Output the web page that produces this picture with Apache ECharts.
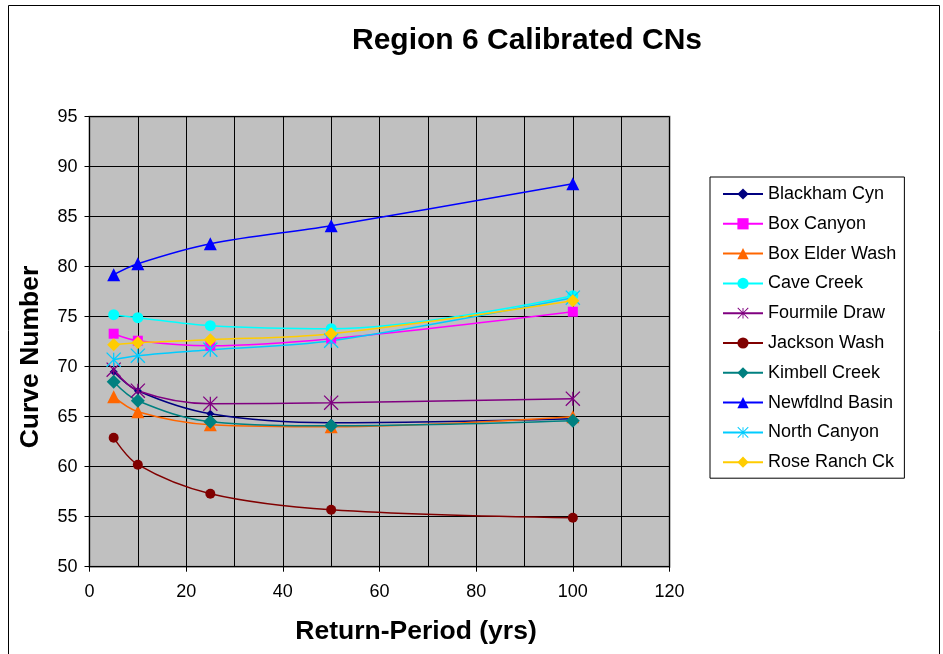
<!DOCTYPE html>
<html>
<head>
<meta charset="utf-8">
<script src="https://cdn.jsdelivr.net/npm/echarts@6/dist/echarts.min.js"></script>
<style>
  html, body { margin: 0; padding: 0; background: #fff; }
  #chart { width: 943px; height: 654px; }
</style>
</head>
<body>
<div id="chart"></div>
<script>
// Return periods (years)
const returnPeriods = [5, 10, 25, 50, 100];

// Calibrated curve numbers per basin
const blackhamCyn   = [69.5, 67.6, 65.3, 64.4, 64.8];
const boxCanyon     = [73.3, 72.6, 72.1, 72.8, 75.5];
const boxElderWash  = [67.0, 65.5, 64.2, 64.0, 65.0];
const caveCreek     = [75.2, 74.9, 74.1, 73.8, 77.1];
const fourmileDraw  = [69.7, 67.6, 66.3, 66.4, 66.8];
const jacksonWash   = [62.9, 60.2, 57.3, 55.7, 54.9];
const kimbellCreek  = [68.5, 66.6, 64.5, 64.1, 64.6];
const newfdlndBasin = [79.2, 80.3, 82.3, 84.1, 88.3];
const northCanyon   = [70.7, 71.1, 71.7, 72.6, 76.9];
const roseRanchCk   = [72.2, 72.4, 72.7, 73.3, 76.6];

const seriesNames = [
  'Blackham Cyn', 'Box Canyon', 'Box Elder Wash', 'Cave Creek', 'Fourmile Draw',
  'Jackson Wash', 'Kimbell Creek', 'Newfdlnd Basin', 'North Canyon', 'Rose Ranch Ck'
];
const seriesValues = [
  blackhamCyn, boxCanyon, boxElderWash, caveCreek, fourmileDraw,
  jacksonWash, kimbellCreek, newfdlndBasin, northCanyon, roseRanchCk
];

// Axis tick values
const xTicks = [0, 20, 40, 60, 80, 100, 120];
const yTicks = [50, 55, 60, 65, 70, 75, 80, 85, 90, 95];

// Six-armed asterisk marker: vertical bar plus two diagonals
function asteriskPath(w) {
  const d = w * Math.SQRT1_2;
  const bar = `M${-w},-10 L${w},-10 L${w},10 L${-w},10 Z`;
  const diag1 = `M${-10 + d},${-10 - d} L${10 + d},${10 - d} L${10 - d},${10 + d} L${-10 - d},${-10 + d} Z`;
  const diag2 = `M${10 - d},${-10 - d} L${10 + d},${-10 + d} L${-10 + d},${10 + d} L${-10 - d},${10 - d} Z`;
  return 'path://' + bar + ' ' + diag1 + ' ' + diag2;
}
const asterisk = asteriskPath(0.9);

const styles = [
  { color: '#000080', symbol: 'diamond',  size: 8 },
  { color: '#FF00FF', symbol: 'rect',     size: 10 },
  { color: '#FF6600', symbol: 'triangle', size: 13 },
  { color: '#00FFFF', symbol: 'circle',   size: 11 },
  { color: '#800080', symbol: asterisk,   size: 15 },
  { color: '#800000', symbol: 'circle',   size: 10 },
  { color: '#008080', symbol: 'diamond',  size: 14 },
  { color: '#0000FF', symbol: 'triangle', size: 13 },
  { color: '#00CCFF', symbol: asterisk,   size: 15 },
  { color: '#FFCC00', symbol: 'diamond',  size: 13 }
];

const FONT = '"Liberation Sans", Arial, sans-serif';

const series = seriesNames.map((name, i) => ({
  name: name,
  type: 'line',
  data: returnPeriods.map((x, j) => [x, seriesValues[i][j]]),
  smooth: 0.35,
  symbol: styles[i].symbol,
  symbolSize: styles[i].size,
  showAllSymbol: true,
  itemStyle: { color: styles[i].color, opacity: 1 },
  lineStyle: { color: styles[i].color, width: 1.5 },
  emphasis: { disabled: true },
  animation: false
}));

const chart = echarts.init(document.getElementById('chart'), null, { renderer: 'canvas' });

chart.setOption({
  backgroundColor: '#ffffff',
  animation: false,
  textStyle: { fontFamily: FONT },
  grid: {
    left: 89.5, top: 116.7, width: 580, height: 450,
    show: true,
    backgroundColor: '#C0C0C0',
    borderColor: '#808080',
    borderWidth: 2
  },
  xAxis: {
    type: 'value',
    min: xTicks[0], max: xTicks[xTicks.length - 1], interval: 20,
    axisLine: { show: true, onZero: false, lineStyle: { color: '#000', width: 1 } },
    axisTick: { show: true, inside: false, length: 5, lineStyle: { color: '#000' } },
    axisLabel: { color: '#000', fontSize: 18, fontFamily: FONT, margin: 16 },
    splitLine: { show: true, lineStyle: { color: '#000', width: 1 } },
    minorTick: { show: false, splitNumber: 2 },
    minorSplitLine: { show: true, lineStyle: { color: '#000', width: 1 } }
  },
  yAxis: {
    type: 'value',
    min: yTicks[0], max: yTicks[yTicks.length - 1], interval: 5,
    axisLine: { show: true, onZero: false, lineStyle: { color: '#000', width: 1 } },
    axisTick: { show: true, inside: false, length: 5, lineStyle: { color: '#000' } },
    axisLabel: { color: '#000', fontSize: 18, fontFamily: FONT, margin: 12 },
    splitLine: { show: true, lineStyle: { color: '#000', width: 1 } }
  },
  legend: {
    orient: 'vertical',
    left: 710, top: 177,
    data: seriesNames,
    itemWidth: 40, itemHeight: 14, itemGap: 11.8,
    padding: [8, 8, 7, 12],
    borderColor: '#000', borderWidth: 1,
    backgroundColor: '#fff',
    textStyle: { color: '#000', fontSize: 18, fontFamily: FONT, padding: [0, 0, 0, 0] },
    selectedMode: false
  },
  graphic: [
    {
      type: 'rect', silent: true, z: -10,
      shape: { x: 8.5, y: 5.5, width: 931, height: 680 },
      style: { fill: null, stroke: '#000', lineWidth: 1 }
    },
    {
      type: 'text', silent: true,
      x: 527, y: 41,
      style: { text: 'Region 6 Calibrated CNs', fontSize: 30, fontWeight: 'bold',
               fontFamily: FONT, fill: '#000', align: 'center', verticalAlign: 'middle' }
    },
    {
      type: 'text', silent: true,
      x: 416, y: 632,
      style: { text: 'Return-Period (yrs)', fontSize: 26.5, fontWeight: 'bold',
               fontFamily: FONT, fill: '#000', align: 'center', verticalAlign: 'middle' }
    },
    {
      type: 'text', silent: true,
      x: 31, y: 357, rotation: Math.PI / 2,
      style: { text: 'Curve Number', fontSize: 26.5, fontWeight: 'bold',
               fontFamily: FONT, fill: '#000', align: 'center', verticalAlign: 'middle' }
    }
  ],
  series: series
});
</script>
</body>
</html>
